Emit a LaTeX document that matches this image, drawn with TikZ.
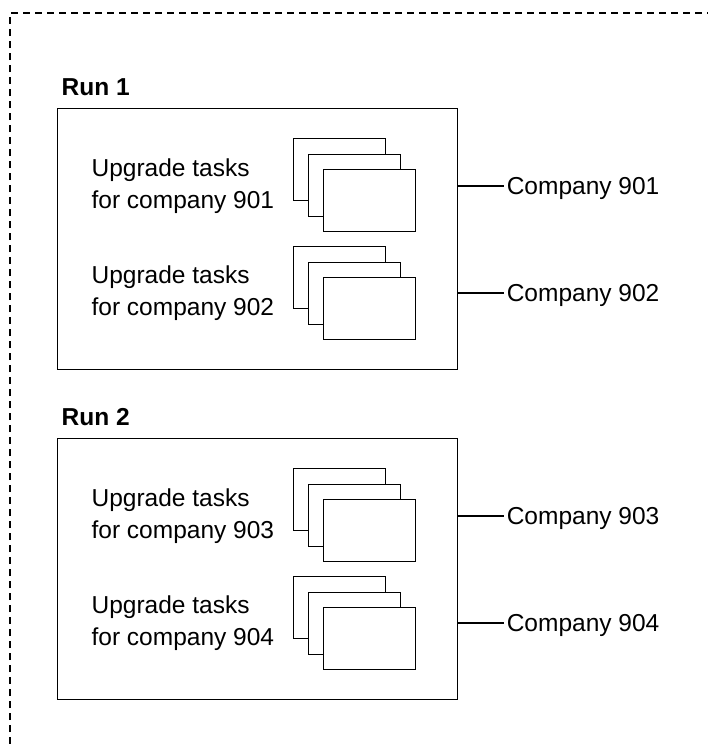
\documentclass[tikz,border=0pt]{standalone}
\usepackage{fontspec}
\setmainfont{Liberation Sans}
\usetikzlibrary{positioning,calc}

\begin{document}
\begin{tikzpicture}[x=1pt, y=-1pt, line width=1.2pt,
    frame/.style={dash pattern=on 7pt off 5pt, line width=1.3pt},
    runbox/.style={rectangle, draw, anchor=north west, minimum width=400pt, minimum height=261pt, inner sep=0pt},
    runlabel/.style={font=\bfseries\fontsize{24.5}{29}\selectfont, inner sep=0pt},
    tasks/.style={align=left, anchor=west, inner sep=0pt, font=\fontsize{24.5}{31.5}\selectfont},
    page/.style={rectangle, draw, fill=white, anchor=north west, minimum width=92pt, minimum height=62pt, inner sep=0pt},
    company/.style={anchor=west, inner xsep=2pt, inner ysep=0pt, text depth=0pt, font=\fontsize{24.5}{29}\selectfont}]
    \useasboundingbox (0,0) rectangle (708,744);
    \draw[frame] (10,744) -- (10,13) -- (708,13);

    % Run 1
    \node[runbox] (run1) at (57,108) {};
    \node[runlabel, above right=12pt and 4pt of run1.north west] (run1label) {Run 1};

    \node[tasks] (t901) at (91,186) {Upgrade tasks\\for company 901};
    \node[page] (p901a) at (293,138) {};
    \node[page] (p901b) at ($(p901a.north west)+(15,16)$) {};
    \node[page] (p901c) at ($(p901b.north west)+(15,15)$) {};
    \node[company] (c901) at ($(run1.east |- t901.west)+(46,0)$) {Company 901};

    \node[tasks] (t902) at (91,293) {Upgrade tasks\\for company 902};
    \node[page] (p902a) at (293,246) {};
    \node[page] (p902b) at ($(p902a.north west)+(15,16)$) {};
    \node[page] (p902c) at ($(p902b.north west)+(15,15)$) {};
    \node[company] (c902) at ($(run1.east |- t902.west)+(46,0)$) {Company 902};

    \draw (run1.east |- c901.west) -- (c901.west);
    \draw (run1.east |- c902.west) -- (c902.west);

    % Run 2
    \node[runbox] (run2) at (57,438) {};
    \node[runlabel, above right=12pt and 4pt of run2.north west] (run2label) {Run 2};

    \node[tasks] (t903) at (91,516) {Upgrade tasks\\for company 903};
    \node[page] (p903a) at (293,468) {};
    \node[page] (p903b) at ($(p903a.north west)+(15,16)$) {};
    \node[page] (p903c) at ($(p903b.north west)+(15,15)$) {};
    \node[company] (c903) at ($(run2.east |- t903.west)+(46,0)$) {Company 903};

    \node[tasks] (t904) at (91,623) {Upgrade tasks\\for company 904};
    \node[page] (p904a) at (293,576) {};
    \node[page] (p904b) at ($(p904a.north west)+(15,16)$) {};
    \node[page] (p904c) at ($(p904b.north west)+(15,15)$) {};
    \node[company] (c904) at ($(run2.east |- t904.west)+(46,0)$) {Company 904};

    \draw (run2.east |- c903.west) -- (c903.west);
    \draw (run2.east |- c904.west) -- (c904.west);
\end{tikzpicture}
\end{document}
